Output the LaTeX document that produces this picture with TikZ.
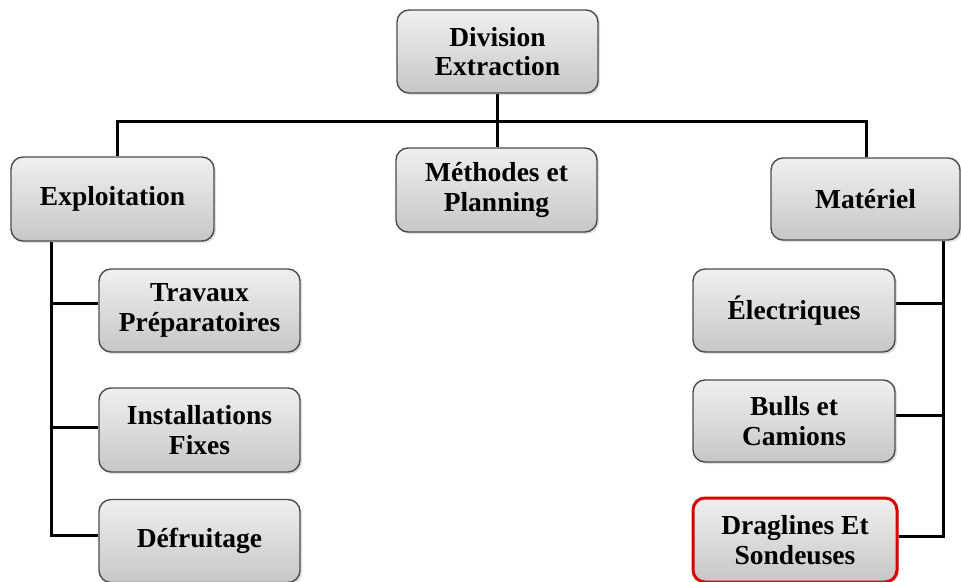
\documentclass[tikz,border=0pt]{standalone}
\usepackage{fontspec}
\setmainfont{Liberation Serif}
\usetikzlibrary{shadows,backgrounds}

\tikzset{
  box/.style={
    draw=black!70, line width=1.4pt, rounded corners=12pt,
    top color=black!6, bottom color=black!22,
    drop shadow={opacity=0.25, shadow xshift=2pt, shadow yshift=-2pt},
    align=center, inner sep=0pt,
    font=\fontsize{27.5}{29.5}\selectfont\bfseries, text=black
  },
  hot/.style={draw=red!85!black, line width=3pt},
  wire/.style={line width=3pt, draw=black, line join=miter}
}

\begin{document}
\begin{tikzpicture}[x=1pt, y=-1pt]
\useasboundingbox (0,0) rectangle (961,581);

% top of the tree
\node[box, minimum width=201pt, minimum height=83pt] (div)  at (497.5,51.5) {Division\\Extraction};

% second level
\node[box, minimum width=203pt, minimum height=84pt] (expl) at (112.5,199)  {Exploitation};
\node[box, minimum width=201pt, minimum height=84pt] (meth) at (496.5,190)  {Méthodes et\\Planning};
\node[box, minimum width=189pt, minimum height=82pt] (mat)  at (865.5,199)  {Matériel};

% under Exploitation
\node[box, minimum width=201pt, minimum height=83pt] (trav) at (199.5,310.5) {Travaux\\Préparatoires};
\node[box, minimum width=201pt, minimum height=84pt] (inst) at (199.5,430)   {Installations\\Fixes};
\node[box, minimum width=201pt, minimum height=83pt] (defr) at (199.5,541)   {Défruitage};

% under Matériel
\node[box, minimum width=202pt, minimum height=83pt] (elec) at (794,310.5) {Électriques};
\node[box, minimum width=202pt, minimum height=82pt] (bull) at (794,421)   {Bulls et\\Camions};
\node[box, hot, minimum width=204pt, minimum height=84pt] (drag) at (795,540) {Draglines Et\\Sondeuses};

% horizontal bus and vertical spines
\coordinate (bus) at (0,121);
\coordinate (lspine) at (51,0);
\coordinate (rspine) at (943,0);

% attachment points on the side of each child box
\coordinate (travw) at ([yshift=7pt]trav.west);
\coordinate (instw) at ([yshift=3pt]inst.west);
\coordinate (defrw) at ([yshift=6pt]defr.west);
\coordinate (elece) at ([yshift=7pt]elec.east);
\coordinate (bulle) at ([yshift=6pt]bull.east);
\coordinate (drage) at ([yshift=4pt]drag.east);
\coordinate (explt) at ([xshift=4.5pt]expl.north);
\coordinate (matt)  at ([xshift=0.5pt]mat.north);
\coordinate (metht) at ([xshift=0.5pt]meth.north);

\begin{scope}[on background layer]
\draw[wire] (explt) -- (explt |- bus) -- (matt |- bus) -- (matt);
\draw[wire] (div.south) -- (div.south |- bus);
\draw[wire] (metht) -- (metht |- bus);

% left spine
\draw[wire] (lspine |- expl.south) |- (defrw);
\draw[wire] (travw) -- (lspine |- travw);
\draw[wire] (instw) -- (lspine |- instw);

% right spine
\draw[wire] (rspine |- mat.south) |- (drage);
\draw[wire] (elece) -- (rspine |- elece);
\draw[wire] (bulle) -- (rspine |- bulle);
\end{scope}
\end{tikzpicture}
\end{document}
